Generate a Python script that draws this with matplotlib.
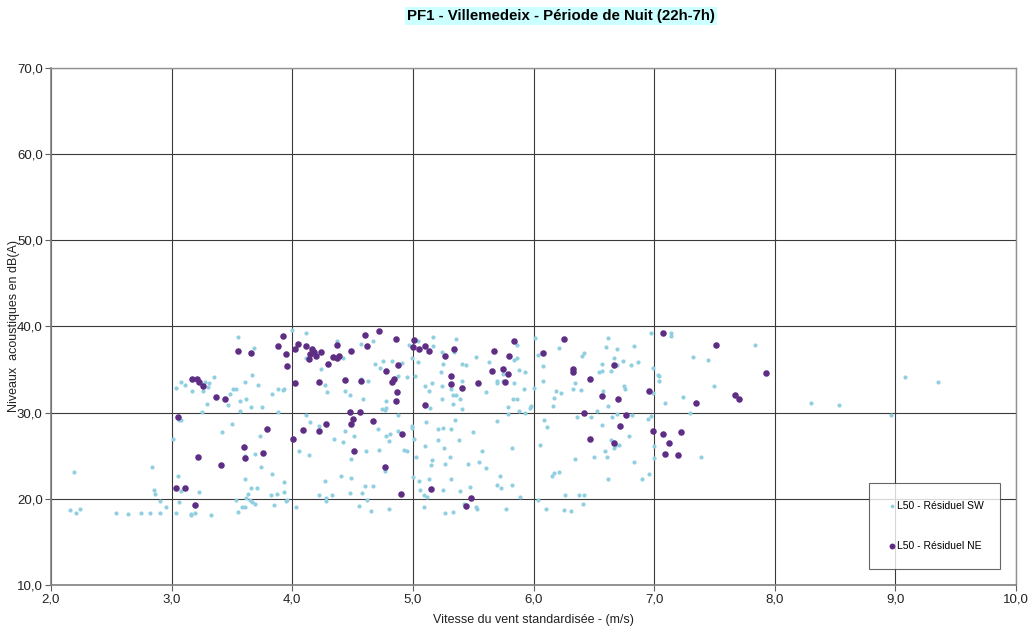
"""Nuage de points L50 résiduel en fonction de la vitesse du vent (PF1, nuit)."""

import matplotlib
matplotlib.use("Agg")
import matplotlib.pyplot as plt
from matplotlib.ticker import FuncFormatter, MultipleLocator

plt.rcParams["font.family"] = ["Liberation Sans", "DejaVu Sans"]

TITLE = "PF1 - Villemedeix - Période de Nuit (22h-7h)"
X_LABEL = "Vitesse du vent standardisée - (m/s)"
Y_LABEL = "Niveaux  acoustiques en dB(A)"
SW_LABEL = "L50 - Résiduel SW"
NE_LABEL = "L50 - Résiduel NE"

# secteur SW : (vitesse m/s, niveau dB(A))
sw_points = [
    (3.55, 38.76), (4.00, 39.54), (3.68, 37.45), (3.08, 33.6), (3.11, 33.2),
    (3.04, 32.9), (3.17, 32.5), (3.26, 32.5), (3.28, 33.6), (3.31, 33.4),
    (3.30, 32.96), (3.35, 34.1), (3.67, 34.35), (3.61, 33.6), (3.72, 33.2),
    (3.83, 32.2), (3.88, 32.8), (3.92, 32.6), (3.93, 32.8), (3.51, 32.7),
    (3.53, 32.8), (3.48, 32.2), (3.57, 31.4), (3.62, 31.6), (3.29, 31.0),
    (3.47, 30.9), (3.66, 30.6), (3.75, 30.6), (3.25, 30.1), (3.57, 30.25),
    (3.88, 30.06), (3.06, 29.1), (3.08, 29.2), (3.50, 28.7), (3.42, 27.7),
    (3.73, 27.35), (3.01, 26.9), (3.69, 25.2), (3.61, 25.0), (3.74, 23.75),
    (3.83, 22.9), (3.93, 22.0), (3.61, 22.35), (2.84, 23.7), (2.19, 23.1),
    (3.05, 22.6), (2.85, 21.0), (2.86, 20.6), (3.08, 20.9), (3.23, 20.8),
    (3.66, 21.3), (3.71, 21.3), (3.63, 20.6), (3.82, 20.4), (3.87, 20.6),
    (3.93, 20.85), (2.90, 19.7), (2.95, 19.1), (3.06, 19.65), (3.53, 19.9),
    (3.62, 20.15), (3.65, 19.9), (3.67, 19.6), (3.69, 19.4), (3.85, 19.3),
    (3.95, 19.7), (3.96, 19.9), (4.03, 19.0), (3.55, 18.5), (3.58, 19.0),
    (3.61, 19.1), (2.16, 18.7), (2.21, 18.4), (2.24, 18.8), (2.54, 18.4),
    (2.64, 18.2), (2.75, 18.3), (2.82, 18.4), (2.90, 18.3), (3.04, 18.4),
    (3.16, 18.2), (3.16, 18.1), (3.19, 18.3), (3.33, 18.1), (4.06, 25.6),
    (4.11, 39.3), (4.37, 38.3), (4.57, 38.0), (4.67, 38.3), (4.97, 37.9),
    (5.04, 38.3), (5.17, 38.8), (5.36, 38.6), (5.17, 37.7), (5.24, 37.0),
    (5.34, 37.0), (5.52, 36.5), (5.86, 37.8), (5.84, 36.1), (5.86, 36.4),
    (6.01, 38.7), (6.04, 36.7), (4.11, 36.4), (4.42, 36.4), (4.24, 35.1),
    (4.69, 35.7), (4.73, 35.2), (4.75, 36.0), (4.83, 36.0), (4.91, 35.8),
    (4.88, 34.3), (4.95, 34.1), (5.02, 34.3), (5.04, 35.9), (4.99, 36.4),
    (5.25, 35.6), (5.23, 34.7), (5.41, 35.7), (5.44, 35.5), (5.63, 35.9),
    (5.75, 34.5), (5.88, 35.0), (5.93, 34.7), (4.27, 33.2), (4.29, 32.4),
    (4.44, 32.5), (4.48, 32.0), (4.59, 31.6), (4.63, 33.7), (4.57, 33.9),
    (4.78, 31.3), (4.74, 30.4), (4.77, 30.3), (4.78, 30.5), (4.88, 29.75),
    (5.10, 33.1), (5.13, 32.5), (5.16, 33.4), (5.24, 33.1), (5.32, 32.8),
    (5.33, 32.0), (5.36, 32.0), (5.39, 31.6), (5.33, 31.0), (5.24, 31.6),
    (5.14, 30.5), (5.41, 30.4), (5.41, 33.7), (5.61, 32.4), (5.70, 33.7),
    (5.70, 33.5), (5.75, 33.7), (5.84, 33.5), (5.92, 32.8), (6.00, 32.9),
    (5.83, 31.6), (5.86, 31.6), (5.79, 30.7), (5.79, 29.9), (5.88, 30.25),
    (5.93, 30.0), (5.97, 30.5), (5.98, 30.75), (4.11, 29.7), (4.15, 28.9),
    (4.22, 28.4), (4.35, 27.0), (4.42, 26.6), (4.44, 27.9), (4.51, 27.3),
    (4.71, 28.1), (4.78, 27.3), (4.81, 27.5), (4.80, 26.7), (4.88, 27.85),
    (4.99, 28.4), (4.99, 28.2), (5.01, 27.0), (4.93, 25.65), (4.95, 25.5),
    (5.11, 28.9), (5.21, 28.1), (5.25, 28.2), (5.32, 28.1), (5.35, 29.2),
    (5.21, 26.85), (5.26, 25.9), (5.38, 26.8), (5.50, 27.8), (5.70, 29.0),
    (5.82, 25.9), (6.05, 26.3), (4.14, 25.1), (4.49, 24.6), (4.61, 25.6),
    (4.72, 25.65), (5.03, 24.8), (5.10, 26.1), (5.16, 24.5), (5.15, 23.9),
    (5.27, 24.0), (5.31, 24.9), (5.46, 24.0), (5.57, 25.6), (5.55, 24.3),
    (5.61, 23.6), (4.77, 23.2), (4.40, 22.6), (4.49, 22.4), (4.27, 22.05),
    (4.60, 21.5), (4.67, 21.5), (5.00, 22.5), (5.05, 22.05), (5.13, 22.3),
    (5.32, 22.35), (5.06, 21.0), (5.09, 20.5), (5.12, 20.2), (5.25, 21.0),
    (5.39, 20.9), (5.47, 21.4), (5.72, 22.7), (5.70, 21.55), (5.73, 21.2),
    (5.82, 21.55), (5.89, 20.2), (6.04, 19.9), (4.22, 20.4), (4.28, 20.15),
    (4.28, 19.7), (4.33, 20.5), (4.48, 20.65), (4.58, 20.65), (4.62, 19.9),
    (4.55, 19.2), (4.65, 18.6), (4.80, 18.8), (5.09, 19.1), (5.27, 18.3),
    (5.33, 18.5), (5.42, 19.4), (5.52, 19.0), (5.53, 18.8), (5.77, 18.8),
    (6.21, 37.45), (6.08, 35.4), (6.08, 33.7), (6.09, 29.2), (6.11, 28.3),
    (6.10, 18.8), (6.25, 18.7), (6.31, 18.6), (6.26, 20.5), (6.38, 20.4),
    (6.42, 20.4), (6.41, 19.4), (6.15, 22.7), (6.17, 23.0), (6.21, 23.1),
    (6.34, 24.6), (6.50, 24.9), (6.61, 24.8), (6.59, 25.5), (6.62, 22.35),
    (6.67, 25.9), (6.68, 26.3), (6.64, 26.85), (6.71, 26.3), (6.79, 27.3),
    (6.83, 24.25), (6.90, 22.35), (6.96, 22.9), (7.00, 26.1), (7.00, 24.7),
    (6.57, 28.6), (6.36, 29.5), (6.48, 29.55), (6.53, 30.25), (6.65, 29.5),
    (6.69, 29.9), (6.82, 29.75), (6.95, 29.3), (6.97, 29.6), (6.62, 30.75),
    (6.16, 30.75), (6.17, 31.7), (6.19, 32.5), (6.23, 32.3), (6.33, 32.7),
    (6.34, 33.4), (6.39, 32.6), (6.58, 32.5), (6.75, 33.1), (6.76, 32.7),
    (6.54, 34.7), (6.57, 34.85), (6.57, 35.7), (6.64, 34.8), (6.67, 36.4),
    (6.69, 35.5), (6.69, 37.4), (6.60, 37.6), (6.62, 38.7), (6.74, 36.0),
    (6.81, 35.5), (6.87, 35.9), (6.83, 37.7), (6.40, 36.6), (6.42, 36.9),
    (6.99, 35.2), (7.03, 34.4), (7.04, 34.2), (7.04, 33.7), (6.99, 32.3),
    (7.09, 31.1), (7.24, 31.8), (7.30, 30.0), (6.97, 39.3), (7.14, 39.3),
    (7.14, 38.9), (7.32, 36.5), (7.45, 36.1), (7.50, 33.1), (7.84, 37.8),
    (7.39, 24.8), (8.30, 31.1), (8.53, 30.9), (8.96, 29.7), (9.08, 34.1),
    (9.35, 33.6),
]

# secteur NE
ne_points = [
    (3.92, 38.9), (3.88, 37.7), (4.02, 37.4), (4.05, 38.0), (3.55, 37.1),
    (3.66, 36.9), (3.95, 36.8), (3.96, 35.4), (4.02, 33.4), (3.17, 33.85),
    (3.21, 33.9), (3.23, 33.6), (3.26, 33.1), (3.37, 31.8), (3.44, 31.6),
    (3.05, 29.5), (3.79, 28.1), (4.01, 27.0), (3.60, 26.0), (3.61, 24.7),
    (3.76, 25.3), (3.22, 24.8), (3.41, 23.9), (3.04, 21.3), (3.11, 21.3),
    (3.19, 19.3), (4.11, 37.7), (4.16, 37.4), (4.15, 36.8), (4.18, 37.0),
    (4.14, 36.2), (4.20, 36.6), (4.24, 37.0), (4.30, 35.7), (4.34, 36.5),
    (4.37, 36.4), (4.39, 36.6), (4.37, 37.9), (4.49, 37.1), (4.60, 38.96),
    (4.62, 37.7), (4.72, 39.5), (4.86, 38.6), (4.78, 34.85), (4.88, 35.5),
    (4.83, 33.6), (4.84, 33.9), (4.87, 32.4), (4.86, 31.4), (4.44, 33.8),
    (4.57, 33.7), (4.22, 33.6), (4.48, 30.05), (4.56, 30.1), (4.50, 29.3),
    (4.49, 28.7), (4.67, 29.0), (4.28, 28.7), (4.09, 28.0), (4.22, 27.9),
    (4.91, 27.5), (4.51, 25.6), (4.77, 23.75), (4.90, 20.6), (5.01, 38.4),
    (5.00, 37.6), (5.05, 37.4), (5.10, 37.7), (5.13, 37.1), (5.27, 36.6),
    (5.34, 37.4), (5.32, 34.2), (5.32, 33.3), (5.41, 32.9), (5.54, 33.4),
    (5.67, 37.1), (5.80, 36.6), (5.84, 38.3), (5.66, 34.85), (5.75, 35.1),
    (5.79, 34.5), (5.76, 33.6), (5.10, 30.9), (5.15, 21.1), (5.48, 20.15),
    (5.44, 19.2), (6.25, 38.6), (6.08, 36.9), (6.33, 35.1), (6.33, 34.7),
    (6.47, 33.9), (6.67, 35.5), (6.57, 31.9), (6.70, 31.6), (6.42, 30.0),
    (6.77, 29.7), (6.72, 28.4), (6.47, 27.0), (6.67, 26.5), (6.96, 32.5),
    (7.07, 39.2), (7.51, 37.8), (7.93, 34.6), (7.67, 32.0), (7.70, 31.6),
    (7.35, 31.1), (6.99, 27.85), (7.07, 27.5), (7.12, 26.5), (7.22, 27.8),
    (7.09, 25.2), (7.20, 25.1),
]

SW_COLOR = "#8FCFDF"
NE_COLOR = "#5E2D84"
GRID_COLOR = "#3a3a3a"


def comma(v, _pos):
    return f"{v:.1f}".replace(".", ",")


fig = plt.figure(figsize=(10.29, 6.27), dpi=100)
ax = fig.add_axes([51 / 1029, 1 - 585 / 627, 965 / 1029, 517 / 627])

ax.scatter([p[0] for p in sw_points], [p[1] for p in sw_points],
           s=9, color=SW_COLOR, linewidths=0, zorder=3, label=SW_LABEL)
ax.scatter([p[0] for p in ne_points], [p[1] for p in ne_points],
           s=22, color=NE_COLOR, linewidths=0, zorder=4, label=NE_LABEL)

ax.set_xlim(2, 10)
ax.set_ylim(10, 70)
ax.xaxis.set_major_locator(MultipleLocator(1))
ax.yaxis.set_major_locator(MultipleLocator(10))
ax.xaxis.set_major_formatter(FuncFormatter(comma))
ax.yaxis.set_major_formatter(FuncFormatter(comma))
ax.grid(True, color=GRID_COLOR, linewidth=0.8, zorder=1)
ax.set_axisbelow(True)

for side in ("left", "bottom"):
    ax.spines[side].set_color("#808080")
    ax.spines[side].set_linewidth(1.2)
for side in ("top", "right"):
    ax.spines[side].set_color("#909090")
    ax.spines[side].set_linewidth(1.0)
ax.tick_params(axis="both", direction="out", length=4, width=0.8,
               color="#606060", labelsize=9.5, labelcolor="#222222")
ax.tick_params(axis="x", pad=2)
ax.tick_params(axis="y", pad=2)

ax.set_xlabel(X_LABEL, fontsize=9, color="#222222", labelpad=6)
ax.set_ylabel(Y_LABEL, fontsize=9, color="#222222")
ax.yaxis.set_label_coords(-31 / 965, 0.5)

fig.text(561 / 1029, 1 - 16 / 627, TITLE, ha="center", va="center",
         fontsize=10.8, fontweight="bold",
         bbox=dict(boxstyle="square,pad=0.15", facecolor="#CCFFFF",
                   edgecolor="none"))

leg = ax.legend(loc="upper left", mode="expand",
                bbox_to_anchor=(869 / 1029, 1 - 567 / 627, 131 / 1029, 84 / 627),
                bbox_transform=fig.transFigure, frameon=True, fancybox=False,
                fontsize=7.5, handletextpad=0.0, handlelength=1.0,
                labelspacing=2.9, borderpad=1.7, markerscale=0.9,
                borderaxespad=0)
leg.get_frame().set_edgecolor("#404040")
leg.get_frame().set_linewidth(0.8)
leg.set_zorder(5)

fig.savefig("out.png", dpi=100)
